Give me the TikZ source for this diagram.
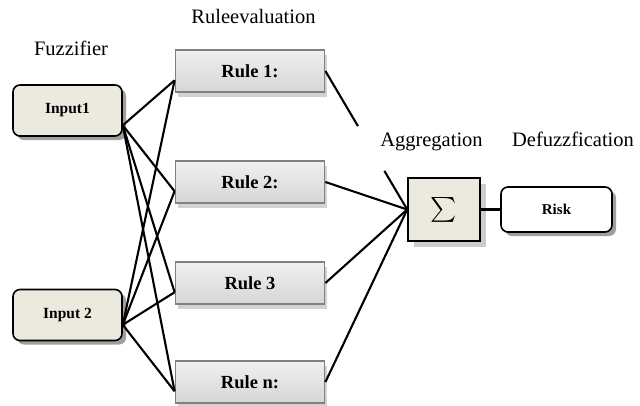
\documentclass[tikz,border=0pt]{standalone}
\usepackage{exscale}
\usepackage{fontspec}
\setmainfont{Liberation Serif}
\usepackage{tikz}
\usetikzlibrary{shadows}

\definecolor{cream}{HTML}{ECEADF}

\tikzset{
	inbox/.style={draw,line width=1.6pt,rounded corners=7pt,fill=cream,minimum width=109pt,minimum height=51pt,
		font=\fontsize{15.5}{18}\selectfont\bfseries,
		drop shadow={shadow xshift=4pt,shadow yshift=-4pt,fill=gray!75,opacity=1}},
	rulebox/.style={draw=gray,line width=1.8pt,top color=gray!12,bottom color=gray!32,minimum width=149pt,minimum height=42pt,
		font=\fontsize{18.5}{22}\selectfont\bfseries,
		drop shadow={shadow xshift=2pt,shadow yshift=-5pt,fill=gray!35,opacity=1}},
	lbl/.style={font=\fontsize{20.5}{24}\selectfont,anchor=base},
	conn/.style={line width=2.1pt}
}

\begin{document}
\begin{tikzpicture}[x=1pt,y=-1pt]
		\useasboundingbox (0,0) rectangle (640,405);

		\node[lbl] (fuz) at (71,55)     {Fuzzifier};
		\node[lbl] (eval) at (253.5,23) {Ruleevaluation};
		\node[lbl] (agg) at (431.5,146) {Aggregation};
		\node[lbl] (def) at (573,146)   {Defuzzfication};

		\node[inbox] (in1) at (67.5,110.5) {Input1};
		\node[inbox] (in2) at (67.5,315)   {Input 2};

		\node[rulebox] (r1) at (250,71)  {Rule 1:};
		\node[rulebox] (r2) at (250,182) {Rule 2:};
		\node[rulebox] (r3) at (250,283) {Rule 3};
		\node[rulebox] (rn) at (250,382) {Rule n:};

		\node[draw,line width=1.6pt,fill=cream,minimum width=72pt,minimum height=63pt,
			drop shadow={shadow xshift=6pt,shadow yshift=-6pt,fill=gray!40,opacity=1}] (sum) at (444,209.5)
			{\fontsize{24}{28}\selectfont$\sum$};
		\node[inbox,fill=white,minimum width=111pt,minimum height=45pt,font=\fontsize{15}{18}\selectfont\bfseries] (risk) at (556.5,209.5) {Risk};

		\path[conn] (in1.345) edge (r1.187) edge (r2.187) edge (r3.187) edge (rn.187);
		\path[conn] (in2.350) edge (r1.187) edge (r2.187) edge (r3.187) edge (rn.187);

		% the first rule line is broken under the aggregation label
		\path[conn] (r1.east) edge[dash pattern=on 64pt off 52pt on 80pt] (sum.west);
		\path[conn] (r2.east) edge (sum.west)
			(r3.east) edge (sum.west)
			(rn.east) edge (sum.west);
		\path[conn] (sum) edge (risk);
	\end{tikzpicture}
\end{document}
